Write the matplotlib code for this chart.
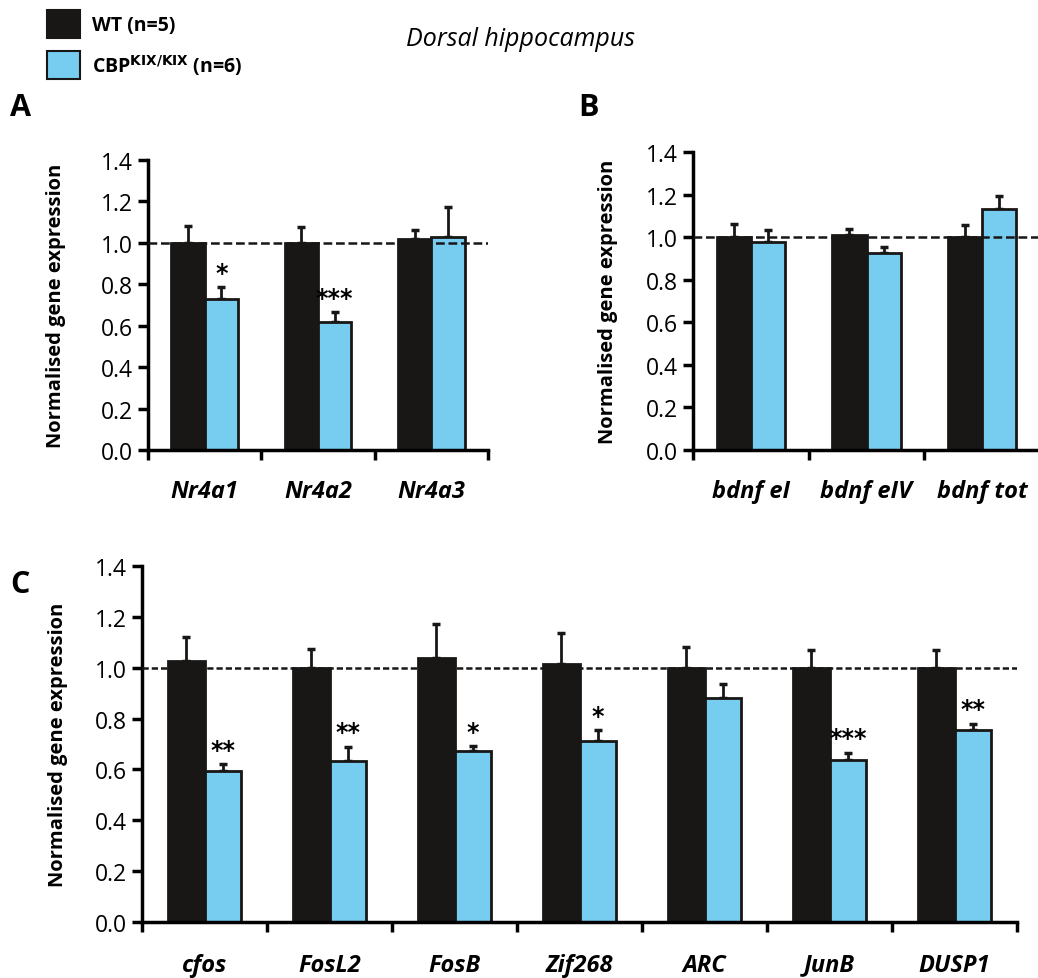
import matplotlib
matplotlib.use("Agg")
import matplotlib.pyplot as plt
import numpy as np

plt.rcParams['font.family'] = ['Open Sans', 'DejaVu Sans']

# panel A
genes_a = ['Nr4a1', 'Nr4a2', 'Nr4a3']
wt_a = [1.00, 1.00, 1.02]
wt_a_err = [0.08, 0.075, 0.04]
kix_a = [0.73, 0.62, 1.03]
kix_a_err = [0.055, 0.045, 0.145]
sig_a = ['*', '***', '']

# panel B
genes_b = ['bdnf eI', 'bdnf eIV', 'bdnf tot']
wt_b = [1.00, 1.01, 1.00]
wt_b_err = [0.063, 0.03, 0.055]
kix_b = [0.975, 0.925, 1.13]
kix_b_err = [0.058, 0.028, 0.063]
sig_b = ['', '', '']

# panel C
genes_c = ['cfos', 'FosL2', 'FosB', 'Zif268', 'ARC', 'JunB', 'DUSP1']
wt_c = [1.027, 1.00, 1.039, 1.016, 1.00, 1.00, 1.00]
wt_c_err = [0.093, 0.075, 0.132, 0.12, 0.08, 0.068, 0.068]
kix_c = [0.593, 0.633, 0.671, 0.713, 0.88, 0.636, 0.757]
kix_c_err = [0.027, 0.057, 0.02, 0.041, 0.055, 0.029, 0.022]
sig_c = ['**', '**', '*', '*', '', '***', '**']

BLACK = '#181716'
BLUE = '#76CDF0'
W, H = 1038, 979


def px_axes(fig, x0, y0, x1, y1):
    return fig.add_axes([x0 / W, (H - y1) / H, (x1 - x0) / W, (y1 - y0) / H])


def draw_panel(ax, genes, wt, wt_err, kix, kix_err, sig, labelx, dash, pad):
    n = len(genes)
    x = np.arange(n) + 0.5
    bw = 0.295
    ax.bar(x - bw / 2, wt, bw, color=BLACK, edgecolor=BLACK, linewidth=2, zorder=2)
    ax.bar(x + bw / 2, kix, bw, color=BLUE, edgecolor=BLACK, linewidth=2, zorder=2)
    ax.errorbar(x - bw / 2, wt, yerr=[np.zeros(n), wt_err], fmt='none',
                ecolor=BLACK, elinewidth=2, capsize=3, capthick=2.5, zorder=1)
    ax.errorbar(x + bw / 2, kix, yerr=[np.zeros(n), kix_err], fmt='none',
                ecolor=BLACK, elinewidth=2, capsize=3, capthick=2.5, zorder=1)
    ax.axhline(1.0, color=BLACK, linestyle=(0, dash), linewidth=1.8, zorder=3)
    for xi, k, e, s in zip(x, kix, kix_err, sig):
        if s:
            ax.text(xi + bw / 2, k + e + 0.01, s, ha='center', va='bottom',
                    fontsize=17, fontweight='bold', family='DejaVu Sans')
    ax.set_xlim(0, n)
    ax.set_ylim(0, 1.4)
    ax.set_yticks(np.arange(0, 1.41, 0.2))
    ax.set_yticklabels(['%.1f' % v for v in np.arange(0, 1.41, 0.2)], fontsize=16.5)
    ax.set_xticks(np.arange(n + 1))
    ax.set_xticklabels([])
    ax.set_xticks(x, minor=True)
    ax.set_xticklabels(genes, minor=True, fontsize=17, fontweight='bold', style='italic')
    ax.tick_params(axis='x', which='minor', length=0, pad=pad)
    ax.tick_params(axis='x', which='major', direction='out', length=7, width=2.5)
    ax.tick_params(axis='y', direction='out', length=7, width=2.5, pad=4)
    for sp in ['top', 'right']:
        ax.spines[sp].set_visible(False)
    for sp in ['left', 'bottom']:
        ax.spines[sp].set_linewidth(2.5)
    ax.set_ylabel('Normalised gene expression', fontsize=14.5, fontweight='bold')
    ax.yaxis.set_label_coords(labelx, 0.5)


fig = plt.figure(figsize=(W / 100, H / 100), dpi=100)

ax_a = px_axes(fig, 148, 161, 488, 451)
draw_panel(ax_a, genes_a, wt_a, wt_a_err, kix_a, kix_a_err, sig_a, -0.24, (3.5, 1.5), 21)

ax_b = px_axes(fig, 693, 153, 1040, 451)
draw_panel(ax_b, genes_b, wt_b, wt_b_err, kix_b, kix_b_err, sig_b, -0.216, (3.5, 1.5), 21)

ax_c = px_axes(fig, 142, 567, 1017, 923)
draw_panel(ax_c, genes_c, wt_c, wt_c_err, kix_c, kix_c_err, sig_c, -0.085, (2.5, 1.2), 22)

# panel letters
fig.text(10 / W, 1 - 108 / H, 'A', fontsize=22, fontweight='bold', va='center')
fig.text(578 / W, 1 - 108 / H, 'B', fontsize=22, fontweight='bold', va='center')
fig.text(10 / W, 1 - 585 / H, 'C', fontsize=22, fontweight='bold', va='center')

# legend
fig.patches.append(plt.Rectangle((47 / W, 1 - 39 / H), 33 / W, 28 / H, transform=fig.transFigure,
                                 facecolor=BLACK, edgecolor=BLACK, linewidth=1.5))
fig.patches.append(plt.Rectangle((47 / W, 1 - 80 / H), 33 / W, 28 / H, transform=fig.transFigure,
                                 facecolor=BLUE, edgecolor=BLACK, linewidth=1.5))
fig.text(92 / W, 1 - 26 / H, 'WT (n=5)', fontsize=14, fontweight='bold', va='center')
fig.text(92 / W, 1 - 66 / H, r'CBP$^{\mathbf{KIX/KIX}}$ (n=6)', fontsize=14, fontweight='bold', va='center')
fig.text(520 / W, 1 - 40 / H, 'Dorsal hippocampus', fontsize=18, style='italic', ha='center', va='center')

fig.savefig('out.png', dpi=100)
